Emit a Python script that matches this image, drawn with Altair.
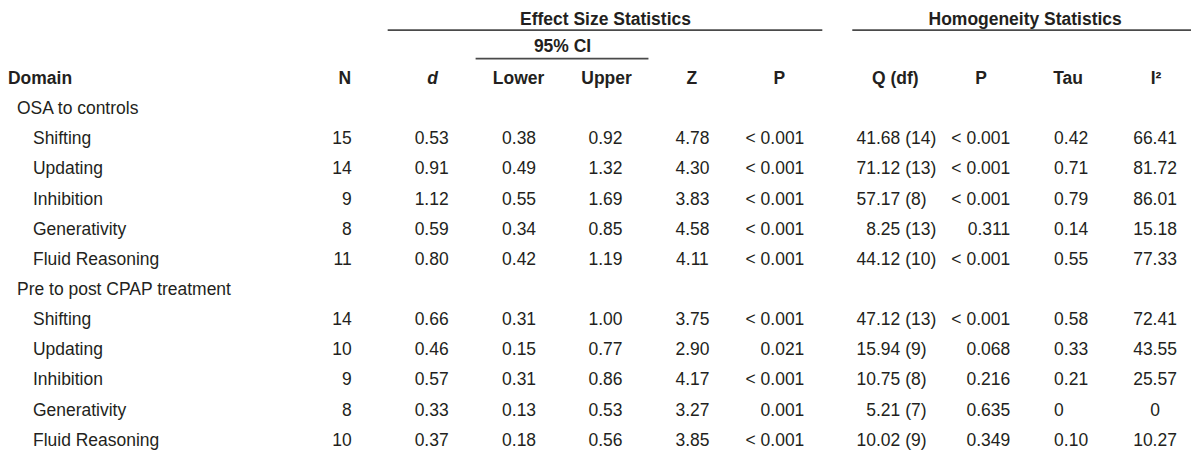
import altair as alt
import pandas as pd

# ---------------- data ----------------
row_labels = ["OSA to controls", "Shifting", "Updating", "Inhibition", "Generativity", "Fluid Reasoning",
              "Pre to post CPAP treatment", "Shifting", "Updating", "Inhibition", "Generativity", "Fluid Reasoning"]
row_level = [0, 1, 1, 1, 1, 1, 0, 1, 1, 1, 1, 1]
n_values = [None, 15, 14, 9, 8, 11, None, 14, 10, 9, 8, 10]
d_values = [None, 0.53, 0.91, 1.12, 0.59, 0.80, None, 0.66, 0.46, 0.57, 0.33, 0.37]
lower_values = [None, 0.38, 0.49, 0.55, 0.34, 0.42, None, 0.31, 0.15, 0.31, 0.13, 0.18]
upper_values = [None, 0.92, 1.32, 1.69, 0.85, 1.19, None, 1.00, 0.77, 0.86, 0.53, 0.56]
z_values = [None, 4.78, 4.30, 3.83, 4.58, 4.11, None, 3.75, 2.90, 4.17, 3.27, 3.85]
p_values = [None, "< 0.001", "< 0.001", "< 0.001", "< 0.001", "< 0.001",
            None, "< 0.001", "0.021", "< 0.001", "0.001", "< 0.001"]
q_values = [None, 41.68, 71.12, 57.17, 8.25, 44.12, None, 47.12, 15.94, 10.75, 5.21, 10.02]
df_values = [None, 14, 13, 8, 13, 10, None, 13, 9, 8, 7, 9]
ph_values = [None, "< 0.001", "< 0.001", "< 0.001", "0.311", "< 0.001",
             None, "< 0.001", "0.068", "0.216", "0.635", "0.349"]
tau_values = [None, "0.42", "0.71", "0.79", "0.14", "0.55", None, "0.58", "0.33", "0.21", "0", "0.10"]
i2_values = [None, "66.41", "81.72", "86.01", "15.18", "77.33", None, "72.41", "43.55", "25.57", "0", "10.27"]

header_labels = ["N", "Lower", "Upper", "Z", "P", "Q (df)", "P", "Tau", "I²"]
group_titles = ["Effect Size Statistics", "Homogeneity Statistics", "95% CI"]

# ---------------- layout (page pixel coordinates) ----------------
FONT = "Liberation Sans"
SIZE = 17.5
INK = "#231f20"
LINE = "#4a4a4a"
TOP = 8             # page y where the chart area starts (body margin)
W, H = 1184, 454 - TOP
HEADER_Y = 79
ROW0_Y = 109
ROW_STEP = 30.17

def row_y(i):
    return ROW0_Y + ROW_STEP * i

fmt2 = lambda v: f"{v:.2f}"
columns = [
    # values, x, align, formatter
    (n_values, 352, "right", lambda v: f"{v:d}"),
    (d_values, 432, "center", fmt2),
    (lower_values, 519.5, "center", fmt2),
    (upper_values, 606, "center", fmt2),
    (z_values, 693, "center", fmt2),
    (p_values, 805, "right", str),
    (q_values, 901, "right", fmt2),
    (df_values, 906, "left", lambda v: f"({v:d})"),
    (ph_values, 1011, "right", str),
    (tau_values, 1055, "left", str),
    (i2_values, 1156, "center", str),
]
header_x = [345, 519, 607, 692.5, 780, 896, 982, 1069, 1157]
label_x = {0: 17, 1: 33}

cells = []
for i, (lab, lev) in enumerate(zip(row_labels, row_level)):
    cells.append({"x": label_x[lev], "y": row_y(i), "t": lab, "a": "left"})
for values, x, align, f in columns:
    for i, v in enumerate(values):
        if v is None:
            continue
        cells.append({"x": x, "y": row_y(i), "t": f(v), "a": align})
cells = pd.DataFrame(cells)

TITLE_Y = 19.5
heads = pd.DataFrame(
    [{"x": x, "y": HEADER_Y, "t": t} for x, t in zip(header_x, header_labels)]
    + [{"x": 606, "y": TITLE_Y, "t": group_titles[0]},
       {"x": 1026, "y": TITLE_Y, "t": group_titles[1]},
       {"x": 563, "y": 46.5, "t": group_titles[2]}]
)
domain_head = pd.DataFrame([{"x": 8, "y": HEADER_Y, "t": "Domain"}])
d_head = pd.DataFrame([{"x": 433, "y": HEADER_Y, "t": "d"}])

rules = pd.DataFrame([
    {"x": 388, "x2": 823, "y": 30},
    {"x": 853, "x2": 1192, "y": 30},
    {"x": 476, "x2": 649, "y": 58.5},
])

xs = alt.Scale(domain=[8, 8 + W], range=[0, W], zero=False, nice=False)
ys = alt.Scale(domain=[TOP, TOP + H], range=[0, H], zero=False, nice=False)
X = alt.X("x:Q", scale=xs, axis=None)
Y = alt.Y("y:Q", scale=ys, axis=None)


def text_layer(df, align, weight="normal", style="normal"):
    return alt.Chart(df).mark_text(
        align=align, baseline="middle", font=FONT, fontSize=SIZE,
        fontWeight=weight, fontStyle=style, color=INK
    ).encode(x=X, y=Y, text="t:N")


layers = []
for a in ["left", "center", "right"]:
    sub = cells[cells["a"] == a]
    layers.append(text_layer(sub, a))
layers.append(text_layer(heads, "center", weight="bold"))
layers.append(text_layer(domain_head, "left", weight="bold"))
layers.append(text_layer(d_head, "center", weight="bold", style="italic"))
layers.append(
    alt.Chart(rules).mark_rule(color=LINE, strokeWidth=1.6).encode(
        x=X, x2="x2:Q", y=Y
    )
)

chart = alt.layer(*layers).properties(width=W, height=H, padding=0).configure_view(stroke=None)
chart.save("out.html", embed_options={"renderer": "svg", "actions": False})
